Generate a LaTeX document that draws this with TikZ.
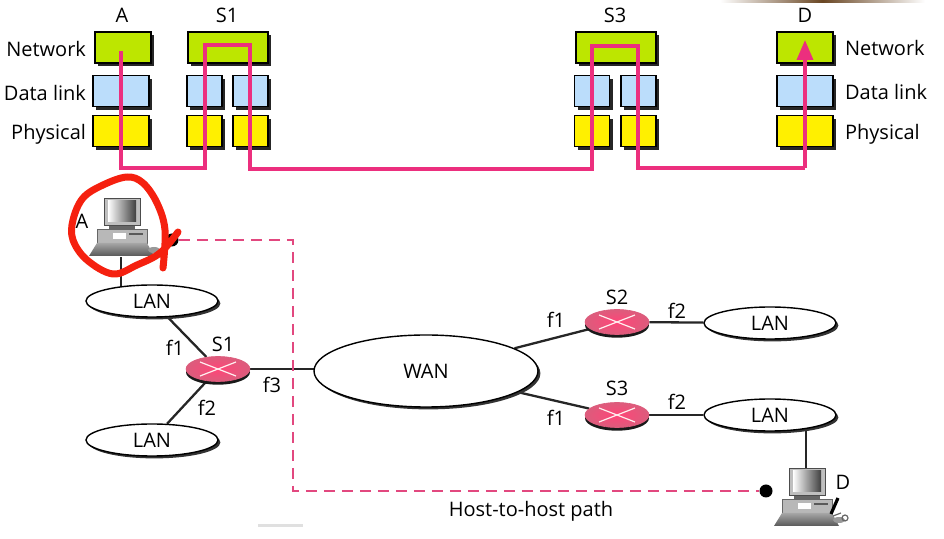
\documentclass[tikz,border=0pt]{standalone}
\usepackage{fontspec}
\setmainfont{Open Sans}
\usetikzlibrary{arrows.meta,shapes.geometric,shadows,backgrounds}
\tikzset{>=Triangle[]}
\definecolor{netgreen}{HTML}{BDE600}
\definecolor{linkblue}{HTML}{BBDDFB}
\definecolor{physyellow}{HTML}{FFF000}
\definecolor{pathpink}{HTML}{EC2F7E}
\definecolor{dashpink}{HTML}{E2487F}
\definecolor{scribble}{HTML}{F5200F}
\definecolor{routerpink}{HTML}{FF4578}
\definecolor{routeredge}{HTML}{DC5C7C}
\tikzset{
  layerbox/.style={draw=black,line width=0.7pt,minimum height=15.5pt,inner sep=0pt,
    drop shadow={shadow xshift=1.7pt,shadow yshift=-1.7pt,fill=black!85,opacity=1}},
  netbox/.style={layerbox,fill=netgreen},
  linkbox/.style={layerbox,fill=linkblue},
  physbox/.style={layerbox,fill=physyellow},
  lan/.style={draw=black,line width=0.7pt,ellipse,fill=white,minimum width=66pt,minimum height=16pt,inner sep=0pt,
    drop shadow={shadow xshift=1.2pt,shadow yshift=-1.2pt,fill=black!80,opacity=1}},
  router/.style={ellipse,minimum width=32pt,minimum height=12.5pt,inner sep=0pt,draw=routeredge,line width=0.3pt,
    inner color=routerpink,outer color=routeredge,
    drop shadow={shadow xshift=0pt,shadow yshift=-1.6pt,fill=black!90,opacity=1},
    path picture={
      \draw[white!75!pink,line width=0.6pt] ([xshift=-9pt,yshift=-3.5pt]path picture bounding box.center) -- ([xshift=9pt,yshift=3.5pt]path picture bounding box.center);
      \draw[white!75!pink,line width=0.6pt] ([xshift=-9pt,yshift=3.5pt]path picture bounding box.center) -- ([xshift=9pt,yshift=-3.5pt]path picture bounding box.center);
    }},
  wire/.style={draw=black!85,line width=1.15pt},
  dot/.style={circle,fill=black,minimum size=6.5pt,inner sep=0pt},
  pcbox/.style={minimum width=30pt,minimum height=29pt,inner sep=0pt},
  computer/.pic={
    % monitor
    \draw[black!70,line width=0.4pt,fill=black!25] (-17,-32) rectangle (19,-5);
    \shade[left color=white,right color=black!75] (-13,-29) rectangle (15,-8);
    \fill[black!60] (-12,-4) rectangle (14,-1);
    % case
    \draw[black!60,line width=0.4pt,fill=black!28] (-24,-1) rectangle (26,13);
    \fill[white] (-8,3) rectangle (5,9);
    \fill[black!65] (8,3) rectangle (22,5);
    % keyboard
    \shade[top color=black!35,bottom color=black!65] (-24,13) -- (26,13) -- (33,26) -- (-32,26) -- cycle;
    \fill[black!40] (33,20) ellipse (6 and 3);
  },
}
\begin{document}
\begin{tikzpicture}[x=0.5pt,y=-0.5pt]
  \useasboundingbox (0,0) rectangle (944,539);

  % marks along the edges of the frame
  \shade[left color=white,right color=white,middle color=black!45!brown] (720,0) rectangle (925,2.5);
  \fill[black!12] (258,524) rectangle (303,527);

  % top headings
  \node (headA) at (122,15) {A};
  \node (headS1) at (227,15) {S1};
  \node (headS3) at (615,15) {S3};
  \node (headD) at (805,15) {D};

  \node[anchor=east] (leftnet) at (93,49) {Network};
  \node[anchor=east] (leftlink) at (93,93) {Data link};
  \node[anchor=east] (leftphys) at (93,134) {Physical};
  \node[anchor=west] (rightnet) at (838,48) {Network};
  \node[anchor=west] (rightlink) at (838,92) {Data link};
  \node[anchor=west] (rightphys) at (838,134) {Physical};

  % layers of the two hosts
  \node[netbox,minimum width=28pt] (netA) at (123,47.5) {};
  \node[linkbox,minimum width=28pt] (linkA) at (121,91) {};
  \node[physbox,minimum width=28pt] (physA) at (121,131) {};
  \node[netbox,minimum width=28pt] (netD) at (805,47.5) {};
  \node[linkbox,minimum width=28pt] (linkD) at (805,91) {};
  \node[physbox,minimum width=28pt] (physD) at (805,131) {};

  % layers of the two switches
  \node[netbox,minimum width=40pt] (netS1) at (228,47.5) {};
  \node[netbox,minimum width=40pt] (netS3) at (616,47.5) {};
  \foreach \n/\t in {S1a/204.5, S1b/250.5, S3a/592, S3b/638.5} {
    \node[linkbox,minimum width=17.5pt] (link\n) at (\t,91) {};
    \node[physbox,minimum width=17.5pt] (phys\n) at (\t,131) {};
  }

  % route through the layers
  \coordinate (routeA) at (121,51);
  \coordinate (routeS1a) at (205,168);
  \coordinate (routeS1b) at (250,45);
  \coordinate (routeS3a) at (592,169);
  \coordinate (routeS3b) at (638,46);
  \coordinate (routeD) at (805,168);
  \coordinate (endD) at (805,40);
  \draw[pathpink,line width=1.75pt] (routeA) |- (routeS1a) |- (routeS1b) |- (routeS3a) |- (routeS3b) |- (routeD);
  \draw[->,pathpink,line width=1.75pt,>={Triangle[length=10pt,width=8pt]}] (routeD) -- (endD);

  % network
  \node[lan] (lanA) at (152,301) {LAN};
  \node[lan] (lanB) at (152,440) {LAN};
  \node[lan] (lanS2) at (770,323) {LAN};
  \node[lan] (lanS3) at (770,415) {LAN};
  \node[lan,minimum width=112pt,minimum height=36pt] (wan) at (426,371) {WAN};
  \node[router] (s1) at (218,369) {};
  \node[router] (s2) at (617,322) {};
  \node[router] (s3) at (617,415) {};
  \node[pcbox] (pcA) at (121,228) {};
  \node[pcbox] (pcD) at (806,498) {};
  \pic at (121,230) {computer};
  \pic at (806,500) {computer};
  \draw[black,line width=1.6pt] (838,498) -- (831,514);
  \draw[black!60,line width=0.6pt] (833,516) -- (841,513) (845,518) circle (3);

  \begin{scope}[on background layer]
    \draw[wire] (pcA.south) -- (pcA.south |- lanA);
    \draw[wire] (pcD.north) -- (pcD.north |- lanS3);
    \draw[wire] (lanA) -- (s1);
    \draw[wire] (lanB) -- (s1);
    \draw[wire] (s1) -- (s1 -| wan);
    \draw[wire] (wan) -- (s2);
    \draw[wire] (wan) -- (s3);
    \draw[wire] (s2) -- (lanS2);
    \draw[wire] (s3) -- (lanS3);
  \end{scope}

  % labels of the network
  \node (tagA) at (82,221) {A};
  \node (tagS1) at (223,344) {S1};
  \node (tagS2) at (617,297) {S2};
  \node (tagS3) at (617,388) {S3};
  \node (tagD) at (843,482) {D};
  \node (s1f1) at (175,348) {f1};
  \node (s1f2) at (207,408) {f2};
  \node (s1f3) at (272,385) {f3};
  \node (s2f1) at (556,320) {f1};
  \node (s2f2) at (677,311) {f2};
  \node (s3f1) at (556,418) {f1};
  \node (s3f2) at (677,402) {f2};

  % host-to-host path
  \node[dot] (dotA) at (172,240) {};
  \node[dot] (dotD) at (766,491) {};
  \coordinate (bendA) at (293,240);
  \coordinate (bendD) at (293,491);
  \draw[dashpink,line width=1.2pt,dash pattern=on 5.5pt off 3.5pt] (dotA) -- (bendA) -- (bendD) -- (dotD);
  \node (pathlabel) at (531,511) {Host-to-host path};

  % red circle by hand
  \draw[scribble,line width=3.5pt,line cap=round,line join=round] plot[smooth,tension=0.6] coordinates
    {(163,268) (165,230) (157,203) (143,183) (127,177) (103,185) (83,198) (73,220) (73,240) (87,260) (113,274) (137,265) (160,253) (178,232)};
\end{tikzpicture}
\end{document}
